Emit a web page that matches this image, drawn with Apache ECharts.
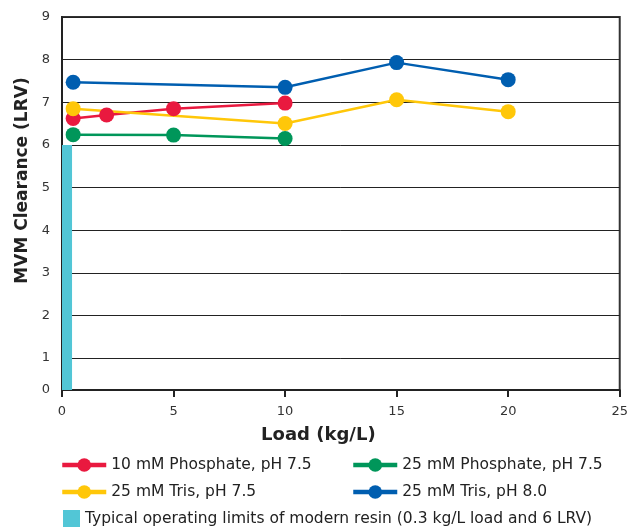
<!DOCTYPE html>
<html>
<head>
<meta charset="utf-8">
<script src="https://cdn.jsdelivr.net/npm/echarts@6/dist/echarts.min.js"></script>
<style>
  html, body { margin: 0; padding: 0; background: #fff; }
  #chart { width: 631px; height: 527px; }
</style>
</head>
<body>
<div id="chart"></div>
<script>
// values
const phosphate10 = [[0.5, 6.62], [2, 6.7], [5, 6.85], [10, 6.98]];
const phosphate25 = [[0.5, 6.24], [5, 6.23], [10, 6.15]];
const tris75 = [[0.5, 6.85], [10, 6.5], [15, 7.06], [20, 6.78]];
const tris80 = [[0.5, 7.47], [10, 7.35], [15, 7.93], [20, 7.53]];
const resinLimit = { load: 0.45, lrv: 6 };

const seriesNames = [
  "10 mM Phosphate, pH 7.5",
  "25 mM Phosphate, pH 7.5",
  "25 mM Tris, pH 7.5",
  "25 mM Tris, pH 8.0",
];
const resinName = "Typical operating limits of modern resin (0.3 kg/L load and 6 LRV)";

// the chart's x axis sits a little above 0, its label still says 0
const yMin = 0.25;
const yTickValues = [0.25, 1, 2, 3, 4, 5, 6, 7, 8, 9];
const yTickLabels = ["0", "1", "2", "3", "4", "5", "6", "7", "8", "9"];

const colors = ["#e9193f", "#00965a", "#ffc709", "#005eb0"];
const resinColor = "#52c6d6";
const font = "DejaVu Sans";

const chart = echarts.init(document.getElementById("chart"));

const lineSeries = (name, data, color) => ({
  name,
  type: "line",
  data,
  symbol: "circle",
  symbolSize: 15,
  color,
  lineStyle: { width: 2.5, color },
  itemStyle: { color },
  z: 5,
});

const legendAt = (name, left, top, extra) =>
  Object.assign(
    {
      data: [name],
      left,
      top,
      padding: 0,
      itemWidth: 44,
      itemHeight: 17,
      itemGap: 0,
      itemTextGap: 5,
      textStyle: { fontFamily: font, fontSize: 15.5, color: "#222" },
      lineStyle: { width: 4.5 },
      selectedMode: false,
    },
    extra || {}
  );

chart.setOption({
  animation: false,
  textStyle: { fontFamily: font },
  grid: {
    left: 62,
    right: 9,
    top: 17,
    bottom: 137,
    show: true,
    borderColor: "#333",
    borderWidth: 2,
  },
  legend: [
    legendAt(seriesNames[0], 60, 457),
    legendAt(seriesNames[1], 351, 457),
    legendAt(seriesNames[2], 60, 484),
    legendAt(seriesNames[3], 351, 484),
    legendAt(resinName, 63, 510, { icon: "rect", itemWidth: 17, itemHeight: 17, itemTextGap: 9 }),
  ],
  xAxis: {
    type: "value",
    min: 0,
    max: 25,
    interval: 5,
    name: "Load (kg/L)",
    nameLocation: "middle",
    nameGap: 36,
    nameTextStyle: {
      fontFamily: font,
      fontSize: 18,
      fontWeight: "bold",
      color: "#222",
      padding: [0, 45, 0, 0],
    },
    axisLine: { lineStyle: { color: "#222", width: 2 } },
    axisTick: { show: true, length: 7, inside: false, lineStyle: { color: "#222", width: 2 } },
    axisLabel: { fontFamily: font, fontSize: 13, color: "#333", margin: 15 },
    splitLine: { show: false },
  },
  yAxis: {
    type: "value",
    min: yMin,
    max: 9,
    name: "MVM Clearance (LRV)",
    nameLocation: "middle",
    nameGap: 31,
    nameTextStyle: {
      fontFamily: font,
      fontSize: 17,
      fontWeight: "bold",
      color: "#222",
      padding: [0, 0, 0, 46],
    },
    axisLine: { show: true, lineStyle: { color: "#222", width: 2 } },
    axisTick: { show: false, customValues: yTickValues },
    axisLabel: {
      customValues: yTickValues,
      fontFamily: font,
      fontSize: 13,
      color: "#333",
      margin: 12,
      formatter: (v) => {
        const i = yTickValues.findIndex((t) => Math.abs(t - v) < 1e-6);
        return i >= 0 ? yTickLabels[i] : "";
      },
    },
    splitLine: { show: true, lineStyle: { color: "#222", width: 1 } },
  },
  series: [
    {
      name: resinName,
      type: "line",
      data: [],
      color: resinColor,
      itemStyle: { color: resinColor },
      markArea: {
        silent: true,
        itemStyle: { color: resinColor, opacity: 1 },
        data: [[{ coord: [0, yMin] }, { coord: [resinLimit.load, resinLimit.lrv] }]],
      },
      z: 1,
    },
    lineSeries(seriesNames[0], phosphate10, colors[0]),
    lineSeries(seriesNames[1], phosphate25, colors[1]),
    lineSeries(seriesNames[2], tris75, colors[2]),
    lineSeries(seriesNames[3], tris80, colors[3]),
  ],
});
</script>
</body>
</html>
